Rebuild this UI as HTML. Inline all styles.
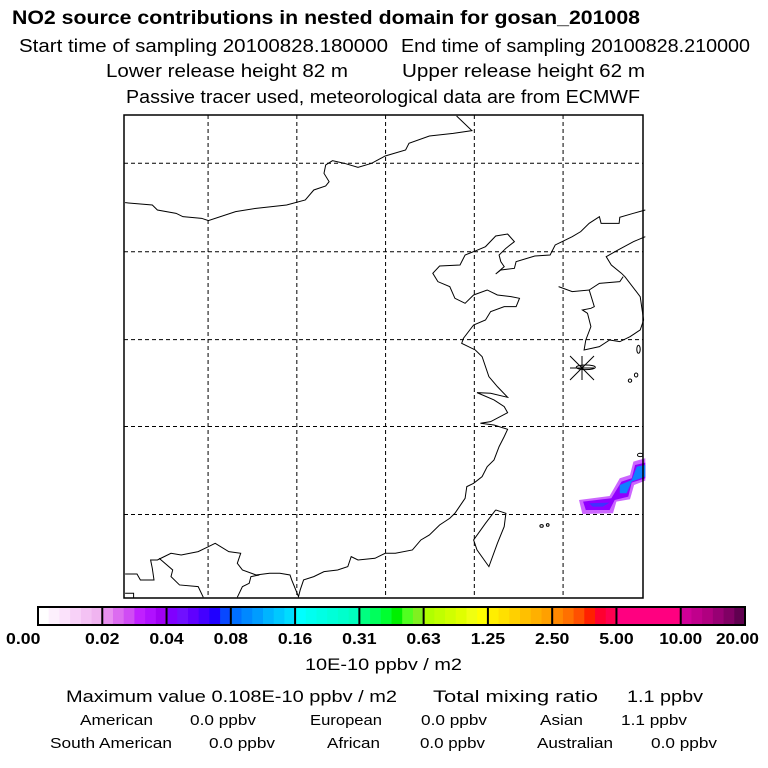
<!DOCTYPE html>
<html><head><meta charset="utf-8"><style>
html,body{margin:0;padding:0;background:#fff;}
svg{display:block;font-family:"Liberation Sans",sans-serif;}
</style></head><body>
<svg id="root" width="768" height="768" viewBox="0 0 768 768">
<g>
<text x="12" y="24" font-size="19" font-weight="bold" textLength="628" lengthAdjust="spacingAndGlyphs">NO2 source contributions in nested domain for gosan_201008</text>
<text x="19" y="52" font-size="18" textLength="369" lengthAdjust="spacingAndGlyphs">Start time of sampling 20100828.180000</text>
<text x="401" y="52" font-size="18" textLength="349" lengthAdjust="spacingAndGlyphs">End time of sampling 20100828.210000</text>
<text x="106" y="77" font-size="18" textLength="242" lengthAdjust="spacingAndGlyphs">Lower release height   82 m</text>
<text x="402" y="77" font-size="18" textLength="243" lengthAdjust="spacingAndGlyphs">Upper release height   62 m</text>
<text x="126" y="103" font-size="18" textLength="514" lengthAdjust="spacingAndGlyphs">Passive tracer used, meteorological data are from ECMWF</text>
</g>
<g id="map"></g>
<g id="cbar"></g>
<g font-size="17">
<text x="305" y="670" textLength="157" lengthAdjust="spacingAndGlyphs">10E-10 ppbv / m2</text>
<text x="66" y="702" textLength="331" lengthAdjust="spacingAndGlyphs">Maximum value  0.108E-10 ppbv / m2</text>
<text x="433" y="702" textLength="165" lengthAdjust="spacingAndGlyphs">Total mixing ratio</text>
<text x="627" y="702" textLength="76" lengthAdjust="spacingAndGlyphs">1.1 ppbv</text>
<g font-size="15">
<text x="80" y="725" textLength="73" lengthAdjust="spacingAndGlyphs">American</text>
<text x="190" y="725" textLength="66" lengthAdjust="spacingAndGlyphs">0.0 ppbv</text>
<text x="310" y="725" textLength="72" lengthAdjust="spacingAndGlyphs">European</text>
<text x="421" y="725" textLength="66" lengthAdjust="spacingAndGlyphs">0.0 ppbv</text>
<text x="540" y="725" textLength="43" lengthAdjust="spacingAndGlyphs">Asian</text>
<text x="621" y="725" textLength="66" lengthAdjust="spacingAndGlyphs">1.1 ppbv</text>
<text x="50" y="748" textLength="122" lengthAdjust="spacingAndGlyphs">South American</text>
<text x="209" y="748" textLength="66" lengthAdjust="spacingAndGlyphs">0.0 ppbv</text>
<text x="327" y="748" textLength="53" lengthAdjust="spacingAndGlyphs">African</text>
<text x="420" y="748" textLength="65" lengthAdjust="spacingAndGlyphs">0.0 ppbv</text>
<text x="537" y="748" textLength="76" lengthAdjust="spacingAndGlyphs">Australian</text>
<text x="651" y="748" textLength="66" lengthAdjust="spacingAndGlyphs">0.0 ppbv</text>
</g></g>
</svg>
<script>
const NS="http://www.w3.org/2000/svg";
// Colorbar data
const cbarTicks=["0.00","0.02","0.04","0.08","0.16","0.31","0.63","1.25","2.50","5.00","10.00","20.00"];
const cbarColors=[
["#ffffff","#fdf0fd","#fbe2fb","#f8d2f8","#f4c2f4","#f0b4f0"],
["#e890f0","#dc6cf0","#d04cf4","#c020ff","#b010ff","#a000f4"],
["#8000ff","#7010ff","#6000ff","#4400ff","#2000ff","#0848ff"],
["#0070ff","#0088ff","#009cff","#00b4ff","#00c8ff","#00dcff"],
["#00ffff","#00fff0","#00ffe4","#00ffd8","#00ffcc","#00ffbe"],
["#00ff80","#00ff5c","#00ff30","#00f000","#50ff20","#80f020"],
["#b0ff00","#c0ff00","#d0ff00","#e0ff00","#f0ff10","#ffff00"],
["#ffee00","#ffe000","#ffd000","#ffc000","#ffb000","#ffa000"],
["#ff8800","#ff7000","#ff5000","#ff2000","#ff0030","#ff0050"],
["#ff0080","#ff0080","#ff0080","#ff0080","#ff0080","#ff0080"],
["#d00098","#c0008c","#b00080","#980074","#800064","#600050"]];
// Map grid data (fractions of map extent)
const gridX=[0.162,0.333,0.504,0.675,0.846];
const gridY=[0.1,0.283,0.465,0.645,0.827];
function mk(tag,attrs,parent){const e=document.createElementNS(NS,tag);for(const k in attrs)e.setAttribute(k,attrs[k]);parent.appendChild(e);return e;}
// colorbar
const cb=document.getElementById('cbar');
const cx0=38,cx1=745,cy=607,ch=18;
const gw=(cx1-cx0)/cbarColors.length;
cbarColors.forEach((grp,i)=>{grp.forEach((c,j)=>{
 const r=mk('rect',{x:cx0+i*gw+j*gw/grp.length,y:cy,width:gw/grp.length+0.6,height:ch,fill:c},cb);
 
 
});
 if(i>0){const l=mk('line',{x1:cx0+i*gw,x2:cx0+i*gw,y1:cy,y2:cy+ch,stroke:'#000','stroke-width':2},cb);
 
 }
});
mk('rect',{x:cx0,y:cy,width:cx1-cx0,height:ch,fill:'none',stroke:'#000','stroke-width':2},cb);
cbarTicks.forEach((t,i)=>{
 let x=cx0+i*gw;
 const tx=mk('text',{x:x,y:644,'font-size':16,'font-weight':'bold','text-anchor':'middle',textLength:t.length*8.6,lengthAdjust:'spacingAndGlyphs'},cb);
 if(i===cbarTicks.length-1){tx.setAttribute('text-anchor','end');tx.setAttribute('x',759);}
 if(i===0){tx.setAttribute('text-anchor','start');tx.setAttribute('x',6);}
 tx.textContent=t;
 
 
});
// map
const m=document.getElementById('map');
const mx0=124,mx1=643,my0=115,my1=598;
gridX.forEach(f=>{const l=mk('line',{x1:mx0+f*(mx1-mx0),x2:mx0+f*(mx1-mx0),y1:my0,y2:my1,stroke:'#000','stroke-width':1,'stroke-dasharray':'4,3'},m);
 
 });
gridY.forEach(f=>{const l=mk('line',{x1:mx0,x2:mx1,y1:my0+f*(my1-my0),y2:my0+f*(my1-my0),stroke:'#000','stroke-width':1,'stroke-dasharray':'4,3'},m);
 
 });
const g=mk('g',{transform:'translate(120,110) scale(0.34,0.3333)',fill:'none',stroke:'#000'},m);
const lines=[
"990,18 1035,62 980,70 910,78 850,100 840,120 780,138 740,160 700,172 660,160 625,152 605,165 600,190 615,215 605,228 570,240 545,270 490,285 400,295 340,305 260,332 240,325 185,320 165,310 110,300 95,285 15,278",
"1545,300 1510,310 1470,322 1468,340 1415,340 1410,320 1380,340 1355,365 1330,380 1300,395 1280,405 1265,435 1220,438 1165,455 1160,475 1120,480 1105,492 1130,470 1120,455 1115,435 1135,415 1160,395 1140,372 1105,378 1075,410 1040,425 1015,435 1000,465 940,468 920,490 935,515 970,530 985,565 1015,580 1040,555 1080,540 1110,555 1150,560 1175,565 1165,590 1130,590 1090,605 1075,630 1040,645 1010,685 1005,700 1045,720 1065,740 1085,800 1110,830 1140,862 1090,850 1050,848 1100,870 1130,890 1140,908 1090,935 1060,940 1100,945 1140,958 1130,980 1115,1010 1100,1050 1080,1070 1065,1100 1040,1120 1020,1130 1015,1165 995,1195 985,1210 970,1225 940,1245 910,1275 885,1290 860,1320 810,1330 780,1330 750,1345 700,1350 680,1340 670,1370 640,1380 600,1385 570,1400 540,1410 530,1440 525,1460 505,1410 500,1395 470,1390 440,1390 400,1395 360,1380 345,1360 355,1330 320,1325 280,1300 250,1315 230,1325 180,1335 150,1330 130,1340 110,1350 90,1350 95,1375 100,1410 60,1410 50,1392 15,1392",
"15,1450 40,1450 40,1465",
"115,1345 155,1380 150,1400 175,1425 230,1430 245,1462",
"345,1462 360,1430 380,1420 385,1400 410,1395",
"1290,530 1330,545 1380,540 1395,590 1385,595 1360,600 1375,610 1385,650 1370,690 1365,720 1410,710 1440,690 1470,695 1500,680 1530,660 1540,630 1530,560 1485,500 1475,490 1445,465 1430,440 1465,420 1510,395 1545,380",
"1380,540 1410,520 1470,515 1480,500",
"1105,1200 1135,1210 1130,1250 1110,1300 1085,1370 1050,1320 1040,1290 1075,1240 1105,1200"];
lines.forEach(p=>{const e=mk('polyline',{points:p,'vector-effect':'non-scaling-stroke','stroke-width':1},g);
 
 });
const isl=[[1370,772,28,7],[1525,718,5,12],[1500,812,5,5],[1518,795,5,6],[1240,1248,5,4],[1258,1245,4,4],[1530,1035,8,5]];
isl.forEach(a=>{const e=mk('ellipse',{cx:a[0],cy:a[1],rx:a[2],ry:a[3],'vector-effect':'non-scaling-stroke'},g);
 
 });
// plume
const pl=mk('g',{},g);


mk('polygon',{points:"1350,1170 1440,1158 1470,1105 1500,1095 1510,1055 1545,1045 1545,1112 1512,1125 1500,1168 1460,1175 1450,1210 1360,1212",fill:'#cc66ff',stroke:'none'},pl);
mk('polygon',{points:"1362,1175 1445,1165 1475,1115 1505,1105 1515,1065 1545,1058 1545,1105 1505,1118 1495,1160 1455,1170 1440,1200 1370,1200",fill:'#9000ff',stroke:'none'},pl);
mk('polygon',{points:"1380,1180 1440,1178 1420,1190 1390,1190",fill:'#4030ff',stroke:'none'},pl);
mk('polygon',{points:"1470,1125 1505,1110 1520,1070 1545,1065 1545,1100 1505,1115 1490,1150 1470,1150",fill:'#1080ff',stroke:'none'},pl);
// station
const st=mk('g',{transform:'translate(582,368)',stroke:'#000','stroke-width':1},m);


[[-12,0,12,0],[0,-12,0,12],[-12,-12,12,12],[-12,12,12,-12]].forEach(a=>mk('line',{x1:a[0],y1:a[1],x2:a[2],y2:a[3]},st));
mk('rect',{x:mx0,y:my0,width:mx1-mx0,height:my1-my0,fill:'none',stroke:'#000','stroke-width':1.5},m);
</script>
</body></html>
